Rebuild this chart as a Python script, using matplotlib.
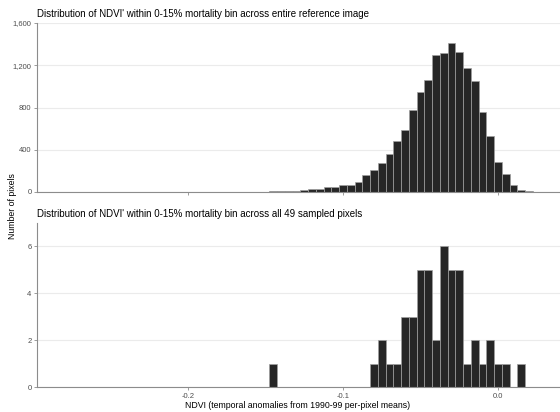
import numpy as np
import matplotlib.pyplot as plt
from matplotlib.ticker import FuncFormatter

plt.rcParams['font.family'] = ['Liberation Sans', 'DejaVu Sans']

# bin centres (binwidth 0.005) and counts, whole reference image
centros_img = [-0.155, -0.150, -0.145, -0.140, -0.135, -0.130, -0.125, -0.120,
               -0.115, -0.110, -0.105, -0.100, -0.095, -0.090, -0.085, -0.080,
               -0.075, -0.070, -0.065, -0.060, -0.055, -0.050, -0.045, -0.040,
               -0.035, -0.030, -0.025, -0.020, -0.015, -0.010, -0.005, 0.000,
               0.005, 0.010, 0.015, 0.020, 0.025, 0.030]
contagem_img = [2, 4, 5, 6, 12, 13, 19, 29,
                30, 50, 49, 68, 67, 98, 164, 206,
                271, 357, 484, 586, 772, 944, 1062, 1298,
                1320, 1408, 1323, 1172, 1052, 756, 532, 283,
                170, 69, 19, 6, 2, 1]

# the 49 sampled pixels
centros_amostra = [-0.145, -0.080, -0.075, -0.070, -0.065, -0.060, -0.055, -0.050,
                   -0.045, -0.040, -0.035, -0.030, -0.025, -0.020, -0.015, -0.010,
                   -0.005, 0.000, 0.005, 0.015]
contagem_amostra = [1, 1, 2, 1, 1, 3, 3, 5,
                    5, 2, 6, 5, 5, 1, 2, 1,
                    2, 1, 1, 1]

titulo1 = "Distribution of NDVI' within 0-15% mortality bin across entire reference image"
titulo2 = "Distribution of NDVI' within 0-15% mortality bin across all 49 sampled pixels"

largura = 0.005
cor_barra = '#262626'
cor_borda = '#a0a0a0'
cor_eixo = '#8c8c8c'
cor_grade = '#ebebeb'
cor_texto = '#4d4d4d'

fig = plt.figure(figsize=(5.6, 4.12), dpi=100)
ax1 = fig.add_axes([37/560, 1 - 192/412, 1 - 37/560, (192 - 23)/412])
ax2 = fig.add_axes([37/560, 1 - 387/412, 1 - 37/560, (387 - 223)/412])


def estilo(ax):
    # visual parecido com ggplot (eixos cinza, grade horizontal)
    for s in ['top', 'right']:
        ax.spines[s].set_visible(False)
    for s in ['left', 'bottom']:
        ax.spines[s].set_color(cor_eixo)
        ax.spines[s].set_linewidth(0.8)
    ax.yaxis.grid(True, color=cor_grade, linewidth=0.8)
    ax.xaxis.grid(False)
    ax.set_axisbelow(True)
    ax.tick_params(length=2.5, width=0.6, color=cor_eixo, labelsize=5.5,
                   labelcolor=cor_texto, pad=1.5)
    ax.set_xlim(-0.2975, 0.04)
    ax.set_xticks([-0.2, -0.1, 0.0])


ax1.bar(centros_img, contagem_img, width=largura, color=cor_barra,
        edgecolor=cor_borda, linewidth=0.5)
estilo(ax1)
ax1.set_ylim(0, 1600)
ax1.set_yticks([0, 400, 800, 1200, 1600])
ax1.yaxis.set_major_formatter(FuncFormatter(lambda v, p: f'{int(v):,}'))
ax1.set_xticklabels([])
ax1.set_title(titulo1, loc='left', fontsize=7, pad=4)

ax2.bar(centros_amostra, contagem_amostra, width=largura, color=cor_barra,
        edgecolor=cor_borda, linewidth=0.5)
estilo(ax2)
ax2.set_ylim(0, 7)
ax2.set_yticks([0, 2, 4, 6])
ax2.set_xticklabels(['-0.2', '-0.1', '0.0'])
ax2.set_title(titulo2, loc='left', fontsize=7, pad=4)

fig.text(0.5 + 18/560, 1 - 406/412, 'NDVI (temporal anomalies from 1990-99 per-pixel means)',
         ha='center', va='center', fontsize=6.3)
fig.text(8/560, 0.5, 'Number of pixels', rotation=90, ha='left', va='center',
         fontsize=6.3)

fig.savefig('out.png', dpi=100)
